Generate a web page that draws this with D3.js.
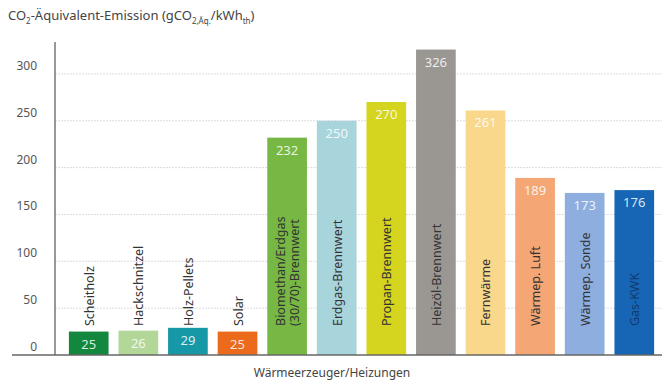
<!DOCTYPE html>
<html>
<head>
<meta charset="utf-8">
<script src="https://cdn.jsdelivr.net/npm/d3@7"></script>
<style>
  body { margin: 0; background: #fff; }
  svg { font-family: "Noto Sans", sans-serif; }
</style>
</head>
<body>
<div id="chart"></div>
<script>
// data
var categories = ["Scheitholz", "Hackschnitzel", "Holz-Pellets", "Solar",
    "Biomethan/Erdgas|(30/70)-Brennwert", "Erdgas-Brennwert", "Propan-Brennwert",
    "Heizöl-Brennwert", "Fernwärme", "Wärmep. Luft", "Wärmep. Sonde", "Gas-KWK"];
var values = [25, 26, 29, 25, 232, 250, 270, 326, 261, 189, 173, 176];
var colors = ["#12873d", "#b3d699", "#1798a6", "#ec6a1c", "#76b843", "#a8d4dc",
    "#d5d41e", "#9a9792", "#f9d88c", "#f4a675", "#8eaee0", "#1666b5"];
var yTicks = [0, 50, 100, 150, 200, 250, 300];

var w = 665, h = 385;
var svg = d3.select("#chart")
    .append("svg")
    .attr("width", w)
    .attr("height", h);

// scales
var x = d3.scaleBand()
    .domain(categories)
    .range([55, 668])
    .paddingInner(0.2)
    .paddingOuter(0.28);

var y = d3.scaleLinear()
    .domain([0, 333])
    .range([355, 43]);

// title
var title = svg.append("text")
    .attr("x", 8)
    .attr("y", 20)
    .style("font-size", "13px")
    .style("fill", "#444");
title.append("tspan").text("CO");
title.append("tspan").text("2").attr("dy", 4).style("font-size", "8px");
title.append("tspan").text("-Äquivalent-Emission (gCO").attr("dy", -4);
title.append("tspan").text("2,Äq.").attr("dy", 4).style("font-size", "8px");
title.append("tspan").text("/kWh").attr("dy", -4);
title.append("tspan").text("th").attr("dy", 4).style("font-size", "8px");
title.append("tspan").text(")").attr("dy", -4);

// gridlines
svg.append("g")
    .selectAll("line")
    .data(yTicks.slice(1))
    .enter().append("line")
    .attr("x1", 55)
    .attr("x2", 662)
    .attr("y1", function(d) { return y(d); })
    .attr("y2", function(d) { return y(d); })
    .attr("stroke", "#dcdcdc")
    .attr("stroke-width", 1)
    .attr("stroke-dasharray", "2,1");

// y tick labels
svg.append("g")
    .selectAll("text")
    .data(yTicks)
    .enter().append("text")
    .attr("x", 37)
    .attr("y", function(d) { return y(d) - 4; })
    .attr("text-anchor", "end")
    .style("font-size", "12px")
    .style("fill", "#555")
    .text(function(d) { return d; });

// bars
svg.append("g")
    .selectAll("rect")
    .data(values)
    .enter().append("rect")
    .attr("x", function(d, i) { return x(categories[i]); })
    .attr("y", function(d) { return y(d); })
    .attr("width", x.bandwidth())
    .attr("height", function(d) { return y(0) - y(d); })
    .attr("fill", function(d, i) { return colors[i]; });

// value labels
svg.append("g")
    .selectAll("text")
    .data(values)
    .enter().append("text")
    .attr("x", function(d, i) { return x(categories[i]) + x.bandwidth() / 2; })
    .attr("y", function(d) { return y(d) + 17; })
    .attr("text-anchor", "middle")
    .style("font-size", "13px")
    .style("fill", "#fff")
    .style("fill-opacity", 0.85)
    .text(function(d) { return d; });

// category labels, rotated
var catG = svg.append("g")
    .selectAll("text")
    .data(categories)
    .enter().append("text")
    .attr("transform", function(d) {
        var lines = d.split("|");
        var cx = x(d) + x.bandwidth() / 2 + 5 - (lines.length - 1) * 7;
        return "translate(" + cx + ",326) rotate(-90)";
    })
    .style("font-size", "12.5px")
    .style("fill", function(d, i) { return i == 11 ? "#123a6e" : "#333"; });

catG.selectAll("tspan")
    .data(function(d) { return d.split("|"); })
    .enter().append("tspan")
    .attr("x", 0)
    .attr("dy", function(d, i) { return i == 0 ? 0 : 14; })
    .text(function(d) { return d; });

// axes lines
svg.append("line")
    .attr("x1", 55).attr("x2", 55)
    .attr("y1", 42).attr("y2", y(0))
    .attr("stroke", "#777")
    .attr("stroke-width", 1.5);

svg.append("line")
    .attr("x1", 12).attr("x2", 662)
    .attr("y1", y(0)).attr("y2", y(0))
    .attr("stroke", "#666")
    .attr("stroke-width", 1.5);

// x axis title
svg.append("text")
    .attr("x", 332)
    .attr("y", 377)
    .attr("text-anchor", "middle")
    .style("font-size", "12px")
    .style("fill", "#444")
    .text("Wärmeerzeuger/Heizungen");
</script>
</body>
</html>
